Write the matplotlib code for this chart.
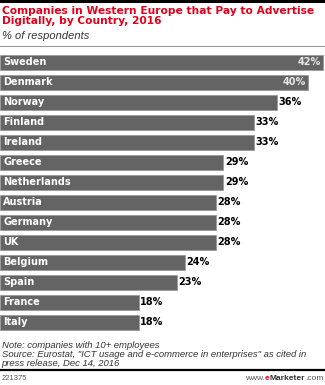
import matplotlib.pyplot as plt
from matplotlib.lines import Line2D

countries = ['Sweden', 'Denmark', 'Norway', 'Finland', 'Ireland', 'Greece',
             'Netherlands', 'Austria', 'Germany', 'UK', 'Belgium', 'Spain',
             'France', 'Italy']
values = [42, 40, 36, 33, 33, 29, 29, 28, 28, 28, 24, 23, 18, 18]

W, H = 325, 385
fig = plt.figure(figsize=(W / 100, H / 100), dpi=100)
fig.patch.set_facecolor('white')


def fy(px):
    return 1 - px / H


# bars
ax = fig.add_axes([0, fy(332), 1, (332 - 52) / H])
y = list(range(len(countries)))
ax.barh(y, values, height=0.75, color='#646464', edgecolor='#9a9a9a', linewidth=0.6)
ax.set_xlim(0, W / 7.7)
ax.set_ylim(len(countries) - 0.5, -0.5)
ax.axis('off')

for i, (c, v) in enumerate(zip(countries, values)):
    ax.text(0.4, i, c, color='white', fontsize=7, fontweight='bold',
            va='center', ha='left', family='DejaVu Sans')
    if v >= 40:
        ax.text(v - 0.3, i, f'{v}%', color='#e6e6e6', fontsize=7, fontweight='bold',
                va='center', ha='right', family='DejaVu Sans')
    else:
        ax.text(v + 0.2, i, f'{v}%', color='black', fontsize=7, fontweight='bold',
                va='center', ha='left', family='DejaVu Sans')

# header
fig.add_artist(Line2D([0, 1], [fy(1), fy(1)], color='black', lw=2.2))
fig.text(0.005, fy(6), 'Companies in Western Europe that Pay to Advertise\nDigitally, by Country, 2016',
         color='#e3001b', fontsize=7.7, fontweight='bold', va='top', ha='left',
         family='DejaVu Sans', linespacing=1.05)
fig.text(0.005, fy(31), '% of respondents', color='#333333', fontsize=8,
         style='italic', va='top', ha='left', family='Liberation Sans')
fig.add_artist(Line2D([0, 1], [fy(46), fy(46)], color='#999999', lw=0.8))

# footer
fig.text(0.005, fy(341), 'Note: companies with 10+ employees\n'
         'Source: Eurostat, "ICT usage and e-commerce in enterprises" as cited in\n'
         'press release, Dec 14, 2016',
         color='#333333', fontsize=6.8, style='italic', va='top', ha='left',
         family='Liberation Sans', linespacing=1.02)
fig.add_artist(Line2D([0, 1], [fy(370), fy(370)], color='black', lw=1.6))
fig.text(0.005, fy(379), '221375', color='#555555', fontsize=5.5, va='center',
         ha='left', family='Liberation Sans')

fig.canvas.draw()
r = fig.canvas.get_renderer()
# assemble the site name right to left
x = 0.995
pieces = [('.com', '#555555', 'normal'), ('Marketer', '#333333', 'bold'),
          ('e', '#e3001b', 'bold'), ('www.', '#555555', 'normal')]
for s, col, wt in pieces:
    t = fig.text(x, fy(379), s, color=col, fontsize=6, fontweight=wt,
                 va='center', ha='right', family='Liberation Sans')
    bb = t.get_window_extent(renderer=r)
    x -= bb.width / W

fig.savefig('out.png', dpi=100)
